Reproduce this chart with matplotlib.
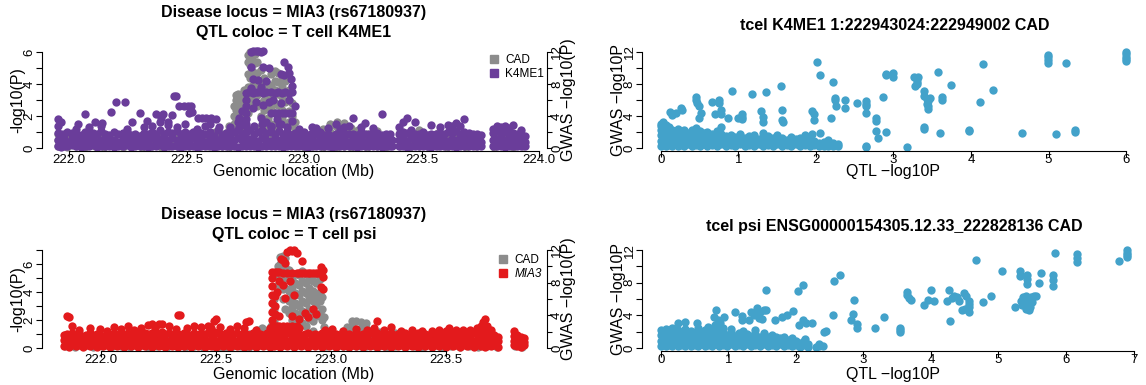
import numpy as np
import matplotlib
matplotlib.use("Agg")
import matplotlib.pyplot as plt
from matplotlib.lines import Line2D

plt.rcParams['font.family'] = ['Liberation Sans', 'DejaVu Sans']

GRAY = '#8c8c8c'
PURPLE = '#6a3d9a'
RED = '#e31a1c'
BLUE = '#43a2ca'
DOT = 36

# rows are [x, y, y, ...]: one x value shared by several SNPs
# locus 1: T cell K4ME1 QTL, position (Mb) vs -log10(P)
k4me1_qtl_rows = [
    [221.952, 0.12, 0.5, 0.95, 1.35, 1.8], [221.965, 0.08, 0.45, 0.9, 1.6], [221.978, 0.15, 0.55, 0.85],
    [221.99, 0.1, 0.4, 1.0], [222.012, 0.18, 0.6, 0.95], [222.03, 0.1, 0.5, 0.85, 1.2],
    [222.05, 0.05, 0.35, 0.8], [222.068, 0.14, 0.55, 1.0], [222.085, 0.1, 0.45, 0.9, 1.3],
    [222.1, 0.2, 0.6, 0.95], [222.12, 0.08, 0.4, 0.85], [222.137, 0.12, 0.5, 1.05, 1.4],
    [222.155, 0.1, 0.55, 0.9], [222.172, 0.15, 0.45, 0.8], [222.19, 0.06, 0.5, 1.0],
    [222.21, 0.12, 0.4, 0.85], [222.228, 0.1, 0.55, 0.95], [222.245, 0.2, 0.6, 1.0, 1.2],
    [222.263, 0.08, 0.45, 0.8], [222.28, 0.12, 0.5, 0.9], [222.3, 0.1, 0.35, 0.75],
    [222.318, 0.15, 0.55, 0.95, 1.3], [222.335, 0.05, 0.45, 0.85], [222.352, 0.12, 0.6, 1.0, 1.4],
    [222.37, 0.1, 0.5, 0.9], [222.388, 0.18, 0.55, 1.1, 1.6], [222.405, 0.08, 0.45, 0.85],
    [222.422, 0.12, 0.5, 1.0, 1.45], [222.44, 0.1, 0.6, 0.95], [222.458, 0.15, 0.5, 1.05, 1.3],
    [222.475, 0.08, 0.45, 0.9], [222.493, 0.12, 0.55, 1.0, 1.5], [222.51, 0.1, 0.4, 0.85],
    [222.528, 0.15, 0.6, 1.0], [222.545, 0.05, 0.45, 0.8, 1.2], [222.563, 0.12, 0.5, 0.95],
    [222.58, 0.1, 0.4, 0.9, 1.35], [222.598, 0.15, 0.55, 1.0], [222.615, 0.08, 0.45, 0.75],
    [222.632, 0.12, 0.5, 1.1], [222.65, 0.1, 0.4, 0.8], [222.668, 0.15, 0.55, 0.95],
    [222.685, 0.1, 0.45, 0.85, 1.3], [222.7, 0.12, 0.5, 1.0], [222.718, 0.08, 0.6, 1.1, 1.6],
    [222.735, 0.1, 0.5, 0.9], [222.752, 0.15, 0.45, 1.0, 1.5], [222.77, 0.1, 0.55, 1.1],
    [222.788, 0.12, 0.5, 0.9, 1.4], [222.805, 0.08, 0.45, 1.0], [222.822, 0.15, 0.6, 1.1, 1.5],
    [222.84, 0.1, 0.5, 0.95], [222.858, 0.12, 0.45, 1.0, 1.4], [222.875, 0.1, 0.55, 0.9],
    [222.892, 0.15, 0.5, 1.05, 1.5], [222.91, 0.08, 0.45, 0.9], [222.928, 0.12, 0.55, 1.0, 1.3],
    [222.945, 0.1, 0.4, 0.8], [222.962, 0.15, 0.5, 0.95], [222.98, 0.1, 0.45, 0.85, 1.2],
    [222.998, 0.12, 0.55, 1.0], [223.015, 0.08, 0.45, 0.8], [223.032, 0.15, 0.5, 0.95, 1.3],
    [223.05, 0.1, 0.4, 0.85, 1.25], [223.068, 0.12, 0.55, 1.0], [223.085, 0.1, 0.45, 0.8],
    [223.102, 0.15, 0.5, 0.9, 1.25], [223.12, 0.08, 0.4, 0.75], [223.138, 0.12, 0.5, 0.9, 1.5],
    [223.155, 0.1, 0.45, 0.8, 1.2], [223.172, 0.15, 0.55, 0.95, 1.3], [223.19, 0.1, 0.4, 0.85, 1.4],
    [223.208, 0.12, 0.5, 0.9, 1.85], [223.225, 0.08, 0.45, 0.8], [223.242, 0.15, 0.55, 1.0, 1.3],
    [223.26, 0.1, 0.4, 0.85, 1.55], [223.278, 0.12, 0.5, 0.9], [223.295, 0.1, 0.45, 0.8, 1.25],
    [223.312, 0.15, 0.5, 0.95], [223.33, 0.08, 0.4, 0.8, 2.1], [223.348, 0.12, 0.55, 0.9],
    [223.365, 0.1, 0.45, 0.85], [223.375, 0.12, 0.5],
    [223.405, 0.1, 0.5, 0.9, 1.3], [223.42, 0.15, 0.55, 1.0, 1.6], [223.438, 0.08, 0.45, 0.95, 1.9],
    [223.455, 0.12, 0.6, 1.1], [223.472, 0.1, 0.5, 0.9, 1.6], [223.49, 0.15, 0.45, 0.85],
    [223.508, 0.1, 0.55, 1.0], [223.525, 0.12, 0.4, 0.8], [223.542, 0.08, 0.5, 0.9, 1.45],
    [223.56, 0.15, 0.45, 0.85], [223.578, 0.1, 0.55, 0.95, 1.3], [223.595, 0.12, 0.5, 0.9],
    [223.612, 0.1, 0.45, 1.0, 1.45], [223.63, 0.15, 0.55, 0.95, 1.35], [223.648, 0.08, 0.5, 1.05, 1.55],
    [223.665, 0.12, 0.45, 0.9, 1.4], [223.682, 0.1, 0.55, 1.0, 1.8], [223.7, 0.15, 0.5, 0.95],
    [223.718, 0.1, 0.45, 0.85], [223.735, 0.12, 0.5, 0.9], [223.752, 0.1, 0.4, 0.8],
    [223.805, 0.12, 0.5, 0.95, 1.2], [223.82, 0.1, 0.55, 1.05, 1.35], [223.838, 0.15, 0.45, 0.9, 1.3],
    [223.855, 0.08, 0.5, 1.0, 1.4], [223.872, 0.12, 0.45, 0.85, 1.25], [223.89, 0.1, 0.55, 0.95, 1.45],
    [223.908, 0.15, 0.5, 0.9], [223.925, 0.1, 0.45, 0.8, 1.1], [223.942, 0.12, 0.4, 0.75],
    # scattered signals left of the peak
    [222.04, 1.5], [222.07, 2.1], [222.11, 1.65], [222.14, 1.55], [222.18, 2.25], [222.2, 2.85],
    [222.24, 2.85], [222.27, 1.6], [222.3, 2.2], [222.33, 1.7], [222.37, 2.15], [222.39, 1.85],
    [222.4, 2.15], [222.42, 1.65], [222.44, 2.05], [222.445, 3.25], [222.455, 3.25], [222.47, 2.65],
    [222.49, 2.65], [222.505, 2.65], [222.51, 2.2], [222.52, 2.65], [222.525, 2.25], [222.55, 1.85],
    [222.565, 1.85], [222.585, 1.85], [222.6, 1.5], [222.605, 1.85], [222.625, 1.8], [222.64, 1.3],
    # peak
    [222.725, 1.3, 1.9], [222.735, 2.3], [222.745, 1.5],
    [222.755, 0.6, 1.0, 1.4, 1.8, 2.2, 2.6, 3.0, 3.45], [222.765, 3.5],
    [222.775, 3.75, 5.05, 6.0], [222.785, 2.5, 3.45, 4.3, 6.05], [222.795, 2.9, 3.5, 6.05],
    [222.805, 3.5, 4.25, 6.05], [222.815, 1.9, 3.8, 6.0], [222.825, 2.7, 3.45, 5.05, 6.05],
    [222.84, 1.6, 3.5, 4.2], [222.85, 2.9, 5.0], [222.86, 1.3, 2.2, 3.5], [222.87, 3.0],
    [222.875, 2.2, 3.45], [222.885, 1.8], [222.89, 2.2, 3.5], [222.9, 1.5, 2.8, 4.6],
    [222.905, 2.2, 3.45], [222.915, 4.55, 5.4], [222.92, 2.2, 3.5], [222.93, 5.05],
    [222.935, 2.2, 3.0, 3.45, 4.7], [222.945, 4.3], [222.95, 1.7, 2.2, 3.5, 3.9], [222.96, 2.6],
]

# locus 1: CAD GWAS, position (Mb) vs -log10(P)
cad1_gwas_rows = [
    [221.955, 0.2, 1.0, 1.8], [221.99, 0.1, 0.8, 1.6], [222.03, 0.3, 1.2], [222.07, 0.1, 0.9, 1.7],
    [222.11, 0.2, 1.1], [222.15, 0.1, 0.8, 1.5], [222.19, 0.3, 1.0], [222.23, 0.1, 0.9, 1.8],
    [222.27, 0.2, 1.2], [222.31, 0.1, 0.8, 1.6], [222.35, 0.3, 1.1], [222.39, 0.1, 0.9, 1.9],
    [222.43, 0.2, 1.0], [222.47, 0.1, 0.8, 1.7], [222.51, 0.3, 1.2], [222.55, 0.1, 0.9, 1.5],
    [222.59, 0.2, 1.0, 1.8], [222.62, 0.1, 0.7, 1.4, 2.0], [222.65, 0.3, 1.0, 1.7],
    [222.68, 0.1, 0.8, 1.5, 2.2, 2.8],
    [222.70, 2.0, 3.0, 4.0, 5.2], [222.71, 2.4, 3.6, 4.8, 6.0, 6.6], [222.72, 1.6, 3.0, 4.4, 5.8, 6.8],
    [222.73, 2.2, 3.4, 5.0, 6.2], [222.745, 2.8, 4.0, 5.6, 7.2],
    [222.76, 4.4, 6.0, 7.6, 9.2, 10.8, 11.6], [222.77, 5.2, 6.8, 8.8, 10.4, 11.2, 12.0],
    [222.78, 11.5, 11.0, 9.6, 7.8, 6.4], [222.79, 11.8, 10.6, 9.0, 5.8],
    [222.80, 10.8, 9.4, 8.0, 6.6, 5.2], [222.815, 9.8, 8.4, 7.2, 5.6, 4.0, 2.6],
    [222.83, 8.8, 7.4, 6.0, 4.8, 3.4, 2.0], [222.845, 8.0, 6.6, 5.2, 3.8, 2.4],
    [222.86, 9.2, 7.8, 6.2, 5.0, 3.0, 1.8], [222.875, 9.6, 8.4, 7.2, 5.6, 4.4, 2.8, 1.2],
    [222.89, 9.4, 8.2, 6.8, 5.4, 4.0, 2.6], [222.905, 9.0, 7.6, 6.4, 4.8, 3.6],
    [222.92, 8.4, 7.0, 5.8, 4.4, 3.0], [222.935, 7.2, 6.0, 4.6, 3.2, 1.8],
    [222.95, 5.6, 4.0, 2.8], [222.96, 3.2, 2.0],
    [222.97, 0.2, 1.0, 1.8], [223.0, 0.1, 0.9, 1.6], [223.04, 0.3, 1.1, 1.9], [223.08, 0.1, 0.8, 1.7, 2.4],
    [223.11, 0.2, 1.2, 2.0, 2.7, 3.0], [223.14, 0.1, 0.9, 1.8, 2.6, 3.2], [223.17, 0.3, 1.1, 2.0, 2.8, 3.1],
    [223.2, 0.1, 1.0, 1.9, 2.5], [223.23, 0.2, 0.9, 1.7, 2.2], [223.27, 0.1, 1.1, 1.8],
    [223.31, 0.3, 1.0, 2.1], [223.35, 0.1, 0.9, 1.6], [223.41, 0.2, 1.1, 2.0], [223.45, 0.1, 0.9, 1.8],
    [223.49, 0.3, 1.2, 2.2], [223.53, 0.1, 0.8, 1.6], [223.57, 0.2, 1.0, 1.9], [223.61, 0.1, 0.9, 1.7],
    [223.65, 0.3, 1.1, 1.8], [223.69, 0.1, 0.8, 1.6], [223.73, 0.2, 1.0, 1.5], [223.81, 0.1, 0.9, 1.8],
    [223.85, 0.3, 1.1, 2.1], [223.89, 0.1, 0.8, 1.7], [223.93, 0.2, 1.0, 1.5],
]

# locus 2: T cell psi QTL (MIA3), position (Mb) vs -log10(P)
psi_qtl_rows = [
    [221.84, 0.15, 0.55, 0.95], [221.852, 0.2, 0.6, 1.0, 2.3], [221.862, 0.1, 0.5, 0.9, 2.25],
    [221.875, 0.25, 0.65, 1.05, 1.55], [221.89, 0.15, 0.5, 0.85], [221.905, 0.2, 0.6, 1.1, 1.3],
    [221.92, 0.1, 0.45, 0.8], [221.935, 0.2, 0.55, 0.95], [221.95, 0.15, 0.6, 1.05, 1.4],
    [221.965, 0.25, 0.5, 0.9], [221.98, 0.1, 0.55, 1.0], [221.995, 0.2, 0.6, 0.95, 1.35],
    [222.01, 0.15, 0.5, 0.85], [222.025, 0.2, 0.55, 1.0, 1.25], [222.04, 0.1, 0.45, 0.9],
    [222.055, 0.2, 0.6, 1.05, 1.5], [222.07, 0.15, 0.5, 0.9], [222.085, 0.25, 0.55, 1.0, 1.35],
    [222.1, 0.1, 0.6, 0.95], [222.115, 0.2, 0.5, 1.05, 1.55], [222.13, 0.15, 0.55, 0.9],
    [222.145, 0.2, 0.6, 1.0, 1.3], [222.16, 0.1, 0.5, 0.95], [222.175, 0.25, 0.55, 1.05, 1.4],
    [222.19, 0.15, 0.6, 1.1], [222.205, 0.2, 0.5, 1.0, 1.65], [222.22, 0.1, 0.55, 1.1, 1.7],
    [222.235, 0.2, 0.6, 1.05, 1.45], [222.25, 0.15, 0.5, 1.0, 1.75], [222.265, 0.25, 0.55, 1.15, 1.7],
    [222.28, 0.1, 0.6, 1.0], [222.295, 0.2, 0.5, 1.1, 1.55], [222.31, 0.15, 0.55, 0.95],
    [222.325, 0.2, 0.6, 1.05, 1.35], [222.335, 0.1, 0.5, 1.0, 2.35], [222.345, 0.25, 0.55, 0.9, 2.35],
    [222.36, 0.15, 0.6, 1.05], [222.375, 0.2, 0.5, 1.0, 1.45], [222.39, 0.1, 0.55, 0.95],
    [222.405, 0.2, 0.6, 1.1, 1.6], [222.42, 0.15, 0.5, 0.9], [222.435, 0.25, 0.55, 1.05, 1.5],
    [222.45, 0.1, 0.6, 1.0], [222.465, 0.2, 0.5, 1.1, 1.6], [222.48, 0.15, 0.55, 1.0, 1.4],
    [222.49, 0.2, 0.6, 1.15, 1.95], [222.5, 0.1, 0.5, 1.05, 2.1], [222.515, 0.25, 0.55, 1.0, 1.5],
    [222.53, 0.15, 0.6, 0.9], [222.545, 0.2, 0.5, 1.05], [222.56, 0.1, 0.55, 0.95, 1.35],
    [222.575, 0.2, 0.6, 1.0], [222.59, 0.15, 0.5, 1.1, 1.55], [222.605, 0.25, 0.55, 0.95],
    [222.62, 0.1, 0.6, 1.05, 1.4], [222.632, 0.2, 0.5, 1.0, 1.85], [222.645, 0.15, 0.55, 0.9, 1.9],
    [222.66, 0.2, 0.6, 1.05], [222.675, 0.1, 0.5, 0.95, 1.3], [222.69, 0.25, 0.55, 1.0],
    [222.705, 0.15, 0.6, 0.9], [222.72, 0.2, 0.5, 1.05], [222.735, 0.1, 0.55, 1.0, 1.4],
    [222.75, 0.15, 0.6, 0.95], [222.765, 0.2, 0.5, 1.05], [222.78, 0.1, 0.55, 1.0],
    [222.795, 0.2, 0.6, 0.9], [222.81, 0.15, 0.5, 1.05], [222.825, 0.25, 0.55, 1.0],
    [222.84, 0.1, 0.6, 0.95], [222.855, 0.2, 0.5, 1.05], [222.87, 0.15, 0.55, 0.9],
    [222.885, 0.2, 0.6, 1.0], [222.9, 0.1, 0.5, 1.05], [222.915, 0.25, 0.55, 0.95],
    [222.93, 0.15, 0.6, 1.0], [222.945, 0.2, 0.5, 0.9], [222.96, 0.1, 0.55, 1.05],
    [222.975, 0.2, 0.6, 1.0, 1.3], [222.99, 0.15, 0.5, 0.95], [223.005, 0.25, 0.55, 1.05, 1.35],
    [223.02, 0.1, 0.6, 1.0], [223.035, 0.2, 0.5, 0.9], [223.05, 0.15, 0.55, 1.05, 1.25],
    [223.065, 0.2, 0.6, 0.95], [223.08, 0.1, 0.5, 1.0], [223.095, 0.25, 0.55, 0.9],
    [223.11, 0.15, 0.6, 1.05, 1.35], [223.125, 0.2, 0.5, 0.95], [223.14, 0.1, 0.55, 1.0],
    [223.155, 0.2, 0.6, 0.9, 1.3], [223.17, 0.15, 0.5, 1.05], [223.185, 0.25, 0.55, 1.0, 1.45],
    [223.2, 0.1, 0.6, 1.1, 1.9], [223.215, 0.2, 0.5, 0.95], [223.23, 0.15, 0.55, 1.0, 1.3],
    [223.245, 0.2, 0.6, 0.9], [223.26, 0.1, 0.5, 1.05, 1.5], [223.275, 0.25, 0.55, 0.95],
    [223.29, 0.15, 0.6, 1.0], [223.305, 0.2, 0.5, 0.9, 1.25], [223.32, 0.1, 0.55, 1.05],
    [223.335, 0.2, 0.6, 0.95], [223.35, 0.15, 0.5, 1.0, 1.3], [223.365, 0.25, 0.55, 0.9],
    [223.38, 0.1, 0.6, 1.05], [223.395, 0.2, 0.5, 0.95, 1.2], [223.41, 0.15, 0.55, 1.0],
    [223.425, 0.2, 0.6, 0.9], [223.44, 0.1, 0.5, 1.05, 1.2], [223.455, 0.25, 0.55, 0.95],
    [223.47, 0.15, 0.6, 1.0, 1.3], [223.485, 0.2, 0.5, 0.9], [223.5, 0.1, 0.55, 1.05, 1.25],
    [223.515, 0.2, 0.6, 0.95, 1.4], [223.53, 0.15, 0.5, 1.0], [223.545, 0.25, 0.55, 0.9, 1.3],
    [223.56, 0.1, 0.6, 1.05], [223.575, 0.2, 0.5, 0.95, 1.3], [223.59, 0.15, 0.55, 1.0],
    [223.605, 0.2, 0.6, 0.9, 1.3], [223.62, 0.1, 0.5, 1.05], [223.635, 0.25, 0.55, 1.0, 1.4],
    [223.65, 0.15, 0.6, 1.1, 1.6], [223.66, 0.2, 0.5, 1.05, 1.5, 1.85], [223.67, 0.1, 0.55, 1.0, 1.4, 2.05],
    [223.68, 0.2, 0.6, 1.1, 1.6], [223.695, 0.15, 0.5, 0.95, 1.3], [223.71, 0.25, 0.55, 0.9],
    [223.725, 0.1, 0.5, 0.8],
    [223.795, 0.2, 0.5, 0.85, 1.25], [223.81, 0.15, 0.55, 0.9], [223.825, 0.1, 0.5, 0.8],
    [223.838, 0.2, 0.45, 0.7],
    # peak
    [222.745, 1.0, 1.5, 2.0, 2.6, 3.2, 3.8, 4.4, 5.0, 5.45], [222.755, 1.55, 2.4, 3.0, 3.7, 5.45],
    [222.765, 1.45, 1.55, 4.0, 5.45], [222.775, 1.55, 2.3, 4.8, 5.45], [222.783, 1.45, 6.35],
    [222.79, 1.55, 4.5, 5.35, 6.3], [222.8, 1.45, 3.6, 6.05], [222.81, 1.55, 5.35, 6.85],
    [222.82, 1.45, 4.8, 7.0], [222.83, 1.55, 2.3, 5.35, 6.95], [222.84, 1.45, 3.8, 7.0],
    [222.85, 1.55, 5.35, 6.8], [222.862, 1.45, 2.1, 5.35], [222.875, 5.35, 6.2],
    [222.885, 2.5, 5.35], [222.9, 2.2, 5.35], [222.91, 5.35], [222.92, 2.8, 5.35],
    [222.935, 2.4, 5.35], [222.945, 5.35], [222.955, 4.35, 5.35, 5.8], [222.965, 4.25, 5.1, 5.6],
]

# locus 2: CAD GWAS, position (Mb) vs -log10(P)
cad2_gwas_rows = [
    [221.845, 0.2, 0.9, 1.6], [221.885, 0.1, 0.8, 1.4], [221.925, 0.3, 1.0], [221.965, 0.1, 0.7, 1.5],
    [222.005, 0.2, 0.9], [222.045, 0.1, 0.8, 1.6], [222.085, 0.3, 1.0], [222.125, 0.1, 0.9, 1.5],
    [222.165, 0.2, 0.8], [222.205, 0.1, 1.0, 1.6], [222.245, 0.3, 0.9], [222.285, 0.1, 0.8, 1.5],
    [222.325, 0.2, 1.0], [222.365, 0.1, 0.9, 1.6], [222.405, 0.3, 0.8], [222.445, 0.1, 1.0, 1.5],
    [222.485, 0.2, 0.9], [222.525, 0.0, 0.3, 1.0], [222.545, 0.0, 0.2], [222.565, 0.1, 0.8, 1.5],
    [222.605, 0.3, 1.0], [222.645, 0.1, 0.9, 1.7], [222.68, 0.2, 1.0, 1.8, 2.2],
    [222.7, 1.0, 1.7, 2.4], [222.715, 0.4, 1.2, 2.0], [222.73, 0.3, 1.5, 2.3],
    [222.74, 1.7, 2.7], [222.75, 3.4, 4.8, 6.0], [222.77, 7.7, 8.9, 10.1],
    [222.78, 10.3, 11.1, 9.4, 8.2], [222.79, 11.3, 10.6, 9.8, 7.2, 6.0],
    [222.8, 11.0, 9.9, 8.6, 7.4, 4.8], [222.815, 9.6, 8.4, 7.0, 5.7, 4.3],
    [222.83, 8.6, 7.5, 6.2, 5.0, 3.4], [222.845, 7.9, 6.7, 5.5, 4.3, 3.1],
    [222.86, 8.9, 7.7, 6.5, 5.1, 3.9, 2.6], [222.875, 9.4, 8.2, 7.0, 5.8, 4.5, 3.1],
    [222.89, 9.1, 7.9, 6.7, 5.5, 4.1, 2.7], [222.905, 8.6, 7.4, 6.2, 4.8, 3.6],
    [222.92, 8.2, 7.0, 5.8, 4.5, 3.3, 2.1], [222.935, 9.1, 7.9, 6.5, 5.3, 3.9],
    [222.95, 8.4, 6.9, 5.7, 4.3], [222.96, 6.2, 4.8, 3.4], [222.97, 3.8, 2.6],
    [222.98, 0.2, 1.0, 1.8], [223.02, 0.1, 0.9, 1.6], [223.05, 0.3, 1.2, 2.1], [223.07, 0.2, 1.4, 2.6],
    [223.09, 0.4, 1.5, 2.6, 3.3], [223.11, 0.2, 1.2, 2.2, 3.3], [223.13, 0.3, 1.4, 2.4, 3.2],
    [223.15, 0.2, 1.3, 2.4, 3.1], [223.17, 0.4, 1.2, 2.1], [223.19, 0.2, 1.1, 2.0], [223.21, 0.3, 1.0, 1.9],
    [223.24, 0.1, 0.9, 1.7], [223.28, 0.3, 1.1, 1.8], [223.32, 0.1, 1.0, 1.7], [223.36, 0.2, 0.9, 1.5],
    [223.4, 0.1, 1.0, 1.6], [223.44, 0.3, 0.8, 1.4], [223.48, 0.1, 0.9, 1.6], [223.52, 0.2, 1.0, 1.5],
    [223.56, 0.1, 0.8, 1.4], [223.6, 0.3, 1.0, 1.6], [223.64, 0.1, 0.9, 1.8], [223.68, 0.2, 1.1, 1.7],
    [223.72, 0.1, 0.8, 1.2], [223.8, 0.2, 0.9, 1.4], [223.83, 0.1, 0.7, 1.1],
]

# QTL -log10P vs GWAS -log10P, rows are [qtl, gwas, gwas, ...]
k4me1_vs_cad_rows = [
    [0.0, 0.2, 0.9, 1.6, 2.3, 2.8, 3.0], [0.03, 0.5, 1.2, 2.0, 3.25], [0.06, 0.2, 0.8, 1.5, 2.4, 2.9],
    [0.1, 0.4, 1.1, 1.9, 2.6], [0.14, 0.2, 0.9, 1.6, 2.2, 4.1], [0.18, 0.5, 1.3, 2.0],
    [0.22, 0.2, 0.8, 1.6, 2.4], [0.26, 0.4, 1.1, 1.8, 5.0], [0.3, 0.2, 0.9, 1.7, 2.3],
    [0.35, 0.5, 1.2, 1.9], [0.4, 0.2, 0.8, 1.5, 2.2], [0.45, 0.4, 1.1, 1.8, 2.5, 6.0, 6.4],
    [0.5, 0.2, 0.9, 1.6, 2.1], [0.55, 0.5, 1.2, 1.9], [0.6, 0.2, 0.8, 1.5, 2.0],
    [0.66, 0.4, 1.1, 1.7, 5.75], [0.72, 0.2, 0.9, 1.4, 2.1], [0.78, 0.5, 1.2, 1.8, 2.6],
    [0.84, 0.2, 0.8, 1.5], [0.9, 0.4, 1.0, 1.6], [0.96, 0.2, 0.9, 1.4], [1.02, 0.5, 1.1, 1.7],
    [1.08, 0.2, 0.8, 1.3], [1.14, 0.4, 1.0, 1.5], [1.2, 0.2, 0.9, 1.6], [1.26, 0.5, 1.1],
    [1.32, 0.2, 0.8, 1.4, 1.9], [1.38, 0.4, 1.0, 1.5], [1.44, 0.2, 0.9, 1.3], [1.5, 0.5, 1.1, 1.6],
    [1.56, 0.2, 0.8, 1.3], [1.62, 0.4, 1.0], [1.68, 0.2, 0.9, 1.4], [1.74, 0.5, 1.1],
    [1.8, 0.2, 0.8, 1.3], [1.86, 0.4, 1.0, 1.6], [1.92, 0.2, 0.7, 1.2], [1.98, 0.4, 0.9],
    [2.04, 0.2, 0.6], [2.1, 0.3, 0.8], [2.16, 0.2, 0.7, 1.0], [2.22, 0.3, 0.6], [2.28, 0.2, 0.5],
    [0.12, 4.5], [0.19, 4.4], [0.27, 4.8], [0.47, 5.6], [0.49, 5.2, 3.75], [0.51, 4.4],
    [0.75, 6.0, 5.6], [0.77, 4.8, 4.2], [0.7, 4.2], [0.87, 3.75], [0.92, 7.1], [0.99, 3.75],
    [1.05, 3.6, 3.9, 4.3], [1.18, 6.7], [1.29, 4.6], [1.31, 3.9, 3.3], [1.36, 7.0], [1.55, 7.7],
    [1.56, 4.7, 3.5], [1.58, 3.3], [1.95, 4.6, 1.8], [1.98, 3.5, 4.2], [2.01, 10.75],
    [2.05, 9.1, 1.9], [2.22, 8.25], [2.24, 6.2, 6.0], [2.26, 5.3], [2.19, 3.7], [2.37, 6.0],
    [2.38, 5.0], [2.53, 5.6], [2.64, 5.9, 5.5, 5.2, 4.4, 0.3, 0.1], [2.78, 3.75, 3.4, 2.1],
    [2.8, 1.2], [2.87, 6.4], [2.9, 9.3, 9.1, 2.0], [2.99, 9.4, 8.9], [3.18, 0.15],
    [3.27, 8.9], [3.3, 8.6, 8.3, 8.0], [3.28, 7.8], [3.32, 8.9], [3.39, 7.1, 6.5, 2.6, 2.4],
    [3.43, 5.5, 6.1], [3.45, 5.2, 5.9, 4.9], [3.47, 6.3], [3.58, 9.5], [3.6, 1.9],
    [3.62, 6.4, 6.0], [3.74, 7.9], [3.98, 2.3, 2.1], [4.12, 5.75], [4.16, 10.5], [4.28, 7.3],
    [4.66, 1.9], [4.99, 11.6, 11.4, 11.0, 10.6], [5.1, 1.8], [5.22, 10.6], [5.34, 2.2, 2.0],
    [6.0, 12.0, 11.7, 11.4, 11.1, 10.9],
]

psi_vs_cad_rows = [
    [0.0, 0.2, 0.9, 1.6, 2.2], [0.04, 0.5, 1.2, 1.9], [0.08, 0.2, 0.8, 1.5, 2.3], [0.12, 0.4, 1.1, 1.8],
    [0.16, 0.2, 0.9, 1.6, 2.4], [0.2, 0.5, 1.2, 1.9], [0.25, 0.2, 0.8, 1.5, 2.2, 3.1],
    [0.3, 0.4, 1.1, 1.8], [0.35, 0.2, 0.9, 1.6, 2.3], [0.4, 0.5, 1.2, 1.9], [0.45, 0.2, 0.8, 1.5, 2.1],
    [0.5, 0.4, 1.1, 1.8], [0.55, 0.2, 0.9, 1.6, 2.4], [0.6, 0.5, 1.2, 1.9], [0.65, 0.2, 0.8, 1.5, 2.2],
    [0.7, 0.4, 1.1, 1.8, 2.6], [0.75, 0.2, 0.9, 1.6, 2.3], [0.8, 0.5, 1.2, 1.9, 2.8],
    [0.86, 0.2, 0.8, 1.5, 2.2], [0.92, 0.4, 1.1, 1.8, 2.5], [0.98, 0.2, 0.9, 1.6],
    [1.04, 0.5, 1.2, 1.9, 2.3], [1.1, 0.2, 0.8, 1.5], [1.16, 0.4, 1.1, 1.8], [1.22, 0.2, 0.9, 1.6, 2.1],
    [1.28, 0.5, 1.2, 1.7], [1.34, 0.2, 0.8, 1.5], [1.4, 0.4, 1.1, 1.7, 2.2], [1.46, 0.2, 0.9, 1.4],
    [1.52, 0.5, 1.2, 1.8], [1.58, 0.2, 0.8, 1.3], [1.64, 0.4, 1.1, 1.6], [1.7, 0.2, 0.9, 1.4],
    [1.76, 0.5, 1.2], [1.82, 0.2, 0.8, 1.3], [1.88, 0.4, 1.0], [1.94, 0.2, 0.7, 1.2], [2.0, 0.4, 0.9],
    [2.06, 0.1, 0.6], [2.12, 0.3, 0.8], [2.18, 0.1, 0.5], [2.3, 0.1], [2.34, 0.2, 0.5], [2.4, 0.2],
    [0.36, 3.2], [0.54, 3.0], [0.79, 3.8], [0.82, 4.6], [0.84, 3.4], [0.93, 3.8], [0.88, 3.0],
    [1.09, 4.35], [1.2, 3.9, 3.4], [1.31, 3.4], [1.34, 4.4], [1.38, 4.0], [1.42, 4.85],
    [1.47, 4.4], [1.45, 3.7], [1.52, 4.6], [1.55, 4.65, 7.05], [1.5, 3.6], [1.69, 3.4],
    [1.8, 3.8], [1.86, 4.0], [1.96, 4.5], [2.03, 7.0], [2.11, 7.7], [2.05, 2.8], [2.1, 3.4],
    [2.15, 3.0], [2.23, 3.0], [2.13, 1.1], [2.42, 2.0], [2.44, 2.1], [2.55, 4.1], [2.57, 8.2],
    [2.65, 9.0], [2.82, 3.4], [2.84, 4.2], [2.86, 5.9], [2.9, 2.9, 2.4], [3.17, 2.4], [3.31, 3.8],
    [3.54, 2.4, 2.0, 2.2], [3.65, 6.9, 6.5], [3.67, 6.1], [3.7, 5.9], [3.89, 5.3], [3.95, 5.9],
    [4.05, 5.8], [4.0, 7.1], [4.23, 5.7], [4.26, 7.1], [4.28, 3.3], [4.31, 6.1], [4.34, 6.4],
    [4.38, 6.2], [4.41, 5.7], [4.49, 6.7], [4.46, 4.6], [4.5, 4.8], [4.55, 4.9],
    [4.57, 5.8, 5.4, 5.0, 4.4], [4.52, 6.4], [4.66, 10.8], [4.77, 5.67], [4.89, 6.33],
    [5.05, 9.45], [5.24, 5.0], [5.32, 9.4, 8.8], [5.42, 8.9, 8.4, 7.9], [5.63, 9.25], [5.6, 7.96],
    [5.81, 8.9, 8.3, 7.55], [5.84, 11.7], [6.16, 11.5, 11.0, 10.6], [6.78, 10.7],
    [6.91, 12.0, 11.7, 11.4, 11.1],
    [5.33, 5.8], [5.36, 6.2], [5.38, 5.5], [5.4, 6.4, 4.75], [5.42, 5.2], [5.44, 5.9],
    [5.46, 5.0], [5.48, 6.3], [5.5, 5.6], [5.52, 6.4], [5.35, 5.3], [5.45, 4.6], [5.55, 6.35],
]

W, H = 1146, 385
fig = plt.figure(figsize=(W / 100, H / 100), dpi=100)


def px_axes(x0, y0, x1, y1):
    return fig.add_axes([x0 / W, 1 - y1 / H, (x1 - x0) / W, (y1 - y0) / H])


def fig_text(x, y, s, **kw):
    fig.text(x / W, 1 - y / H, s, ha='center', va='center', **kw)


def expand(rows):
    xs = [r[0] for r in rows for _ in r[1:]]
    ys = [v for r in rows for v in r[1:]]
    return np.array(xs), np.array(ys)


def base_axis(ax, xb, yb):
    ax.spines['top'].set_visible(False)
    ax.spines['right'].set_visible(False)
    ax.spines['bottom'].set_bounds(*xb)
    ax.spines['left'].set_bounds(*yb)
    for s in ax.spines.values():
        s.set_linewidth(0.8)
    ax.tick_params(direction='out', length=4, width=0.8, labelsize=9.5)
    ax.tick_params(axis='x', pad=-1.5)
    ax.tick_params(axis='y', pad=0.5, labelrotation=90)
    for lb in ax.get_yticklabels():
        lb.set_va('center')


def rot_ticks(ax, ticks, every):
    ax.set_yticks(ticks)
    ax.set_yticklabels([str(t) if t % every == 0 else '' for t in ticks])


def locus_panel(box, qtl_rows, gwas_rows, color, xlim, ylim, k, xticks, xtl, lticks, legend_at, qname, italic):
    ax = px_axes(*box)
    tw = ax.twinx()
    ax.set_zorder(tw.get_zorder() + 1)
    ax.patch.set_visible(False)

    gx, gy = expand(gwas_rows)
    tw.scatter(gx, gy, s=DOT, color=GRAY, lw=0)
    qx, qy = expand(qtl_rows)
    ax.scatter(qx, qy, s=DOT, color=color, lw=0)

    ax.set_xlim(*xlim)
    ax.set_ylim(*ylim)
    tw.set_ylim(ylim[0] * k, ylim[1] * k)

    ax.set_xticks(xticks)
    ax.set_xticklabels(xtl)
    rot_ticks(ax, lticks, 2)
    base_axis(ax, (xticks[0], xticks[-1]), (lticks[0], lticks[-1]))

    rot_ticks(tw, list(range(0, 13, 2)), 4)
    for s in ['top', 'left', 'bottom']:
        tw.spines[s].set_visible(False)
    tw.spines['right'].set_bounds(0, 12)
    tw.spines['right'].set_linewidth(0.8)
    tw.tick_params(direction='out', length=3.5, width=0.8, labelsize=9.5, pad=-0.5, labelrotation=90)
    for lb in tw.get_yticklabels():
        lb.set_va('center')

    handles = [Line2D([], [], marker='s', ls='', color=GRAY, ms=6, label='CAD'),
               Line2D([], [], marker='s', ls='', color=color, ms=6, label=qname)]
    leg = ax.legend(handles=handles, loc='upper left', bbox_to_anchor=legend_at, frameon=False,
                    fontsize=8.5, handlelength=0.8, handletextpad=0.6, labelspacing=0.15,
                    borderpad=0, borderaxespad=0)
    if italic:
        leg.get_texts()[1].set_style('italic')
    return ax


def coloc_scatter(box, rows, xlim, ylim, xticks):
    ax = px_axes(*box)
    x, y = expand(rows)
    ax.scatter(x, y, s=DOT, color=BLUE, lw=0)
    ax.set_xlim(*xlim)
    ax.set_ylim(*ylim)
    ax.set_xticks(xticks)
    rot_ticks(ax, list(range(0, 13, 2)), 4)
    base_axis(ax, (xticks[0], xticks[-1]), (0, 12))
    return ax


# top row: K4ME1
locus_panel((42, 47, 547, 151), k4me1_qtl_rows, cad1_gwas_rows, PURPLE,
            (221.885, 224.034), (-0.1875, 6.3125), 2.0,
            [222.0, 222.5, 223.0, 223.5, 224.0], ['222.0', '222.5', '223.0', '223.5', '224.0'],
            list(range(0, 7)), (0.885, 0.933), 'K4ME1', False)
coloc_scatter((642, 47, 1145, 151), k4me1_vs_cad_rows, (-0.245, 6.245), (-0.375, 12.625), list(range(0, 7)))

# bottom row: MIA3 psi
locus_panel((42, 245, 547, 351), psi_qtl_rows, cad2_gwas_rows, RED,
            (221.743, 223.939), (-0.214, 7.357), 12 / 7,
            [222.0, 222.5, 223.0, 223.5], ['222.0', '222.5', '223.0', '223.5'],
            list(range(0, 8)), (0.903, 0.916), 'MIA3', True)
coloc_scatter((642, 245, 1146, 351), psi_vs_cad_rows, (-0.281, 7.185), (-0.375, 12.625), list(range(0, 8)))

bold = dict(fontsize=11.5, fontweight='bold')
fig_text(294, 13, 'Disease locus = MIA3 (rs67180937)', **bold)
fig_text(294, 32, 'QTL coloc = T cell K4ME1', **bold)
fig_text(294, 214, 'Disease locus = MIA3 (rs67180937)', **bold)
fig_text(294, 234, 'QTL coloc = T cell psi', **bold)
fig_text(895, 26, 'tcel K4ME1 1:222943024:222949002 CAD', **bold)
fig_text(894, 227, 'tcel psi ENSG00000154305.12.33_222828136 CAD', **bold)

lab = dict(fontsize=11.5)
for yc, ymid in [(172, 100), (374, 299)]:
    fig_text(294, yc, 'Genomic location (Mb)', **lab)
    fig_text(893, yc, 'QTL \u2212log10P', **lab)
    fig_text(18, ymid, '-log10(P)', rotation=90, **lab)
    fig_text(569, ymid, 'GWAS \u2212log10(P)', rotation=90, **lab)
    fig_text(618, ymid, 'GWAS \u2212log10P', rotation=90, **lab)

fig.savefig('out.png', dpi=100)
